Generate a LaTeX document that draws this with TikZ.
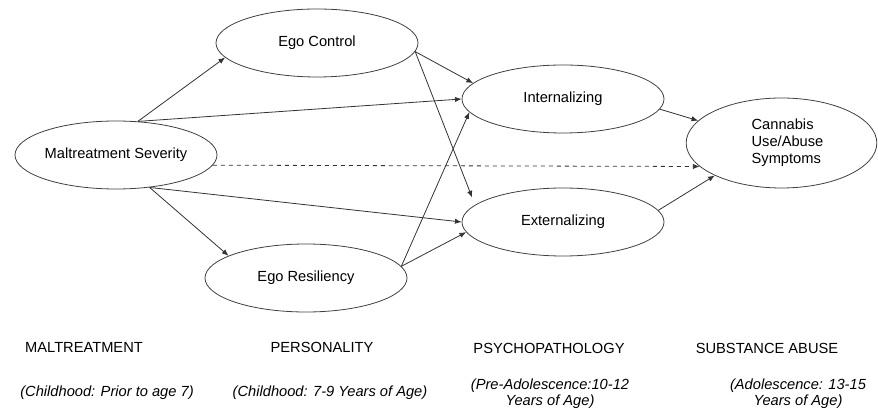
\documentclass[tikz,border=0pt]{standalone}
\usepackage{fontspec}
\setmainfont{Liberation Sans}
\usetikzlibrary{shapes.geometric}
\usetikzlibrary{arrows.meta}
\tikzset{
 constructo/.style={
 ellipse,
 draw=black!75, line width=0.6pt,
 minimum width=151.5pt,
 minimum height=51pt,
 inner sep=0pt,
 font=\fontsize{11}{12.75}\selectfont},
 etapa/.style={
 font=\fontsize{11}{13}\selectfont},
 periodo/.style={
 font=\fontsize{11}{12}\selectfont\itshape,
 align=center},
 flecha/.style={
 draw=black!80, line width=0.6pt,
 -{Latex[length=5pt,width=4pt]}}
}

\begin{document}
\begin{tikzpicture}[x=0.75pt,y=-0.75pt]
 \useasboundingbox (0,0) rectangle (878,416);

 \node[constructo] (maltrato) at (116,155) {Maltreatment Severity};

 \node[constructo] (control) at (317,43) {Ego Control};
 \node[constructo] (resiliencia) at (306,278) {Ego Resiliency};

 \node[constructo] (intern) at (563,99) {Internalizing};
 \node[constructo] (extern) at (563,222) {Externalizing};

 \node[constructo, minimum width=143pt, minimum height=67.5pt, align=left]
 (cannabis) at (781.5,143) {\hspace*{9pt}Cannabis\\\hspace*{9pt}Use/Abuse\\\hspace*{9pt}Symptoms};

 \draw[flecha] (maltrato.57) -- (control.189);
 \draw[flecha] (maltrato.57) -- (intern.west);
 \draw[flecha] (maltrato.-44) -- (resiliencia.164);
 \draw[flecha] (maltrato.-44) -- (extern.west);
 \draw[flecha, dashed] (maltrato.-6) -- (cannabis.196);

 \draw[flecha] (control.-5) -- (intern.170);
 \draw[flecha, shorten >=6pt] (control.-5) -- (extern.169);
 \draw[flecha] (resiliencia.7) -- (intern.188);
 \draw[flecha] (resiliencia.7) -- (extern.186);

 \draw[flecha] (intern.-6) -- (cannabis.165);
 \draw[flecha] (extern.7) -- (cannabis.206);

 % etapas
 \node[etapa] (e1) at (84,347) {MALTREATMENT};
 \node[etapa] (e2) at (322,347) {PERSONALITY};
 \node[etapa] (e3) at (549,348) {PSYCHOPATHOLOGY};
 \node[etapa] (e4) at (767,348) {SUBSTANCE ABUSE};

 \node[periodo] (p1) at (107,393) {(Childhood: Prior to age 7)};
 \node[periodo] (p2) at (330,393) {(Childhood: 7-9 Years of Age)};
 \node[periodo] (p3) at (550,394) {(Pre-Adolescence:10-12\\Years of Age)};
 \node[periodo] (p4) at (798,394) {(Adolescence: 13-15\\Years of Age)};
\end{tikzpicture}
\end{document}
